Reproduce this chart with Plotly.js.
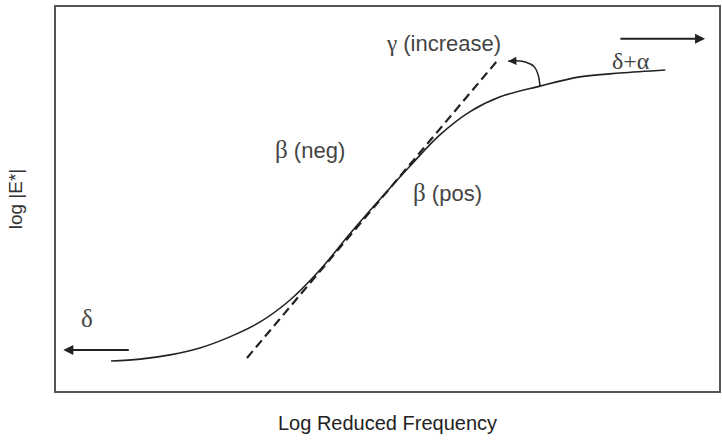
<!DOCTYPE html>
<html>
<head>
<meta charset="utf-8">
<script src="https://cdn.plot.ly/plotly-3.0.1.min.js"></script>
<style>html,body{margin:0;padding:0;background:#fff;}#chart{width:722px;height:442px;}</style>
</head>
<body>
<div id="chart"></div>
<script>
// master curve (log reduced frequency vs log |E*|), in arbitrary axis units
const logFreq    = [0.83, 1.27, 1.72, 2.17, 2.62, 3.08, 3.53, 3.98, 4.43, 4.89, 5.34, 5.79, 6.24, 6.70, 7.30, 7.90, 8.51, 9.19];
const logModulus = [0.78, 0.83, 0.94, 1.12, 1.41, 1.80, 2.37, 3.15, 4.09, 5.00, 5.86, 6.67, 7.27, 7.66, 7.94, 8.18, 8.28, 8.36];
// dashed tangent line through the inflection point
const tangentX = [2.88, 6.65];
const tangentY = [0.86, 8.59];
// arrows: [x tail, y tail, x head, y head]
const leftArrow  = [1.12, 1.07, 0.11, 1.07];
const rightArrow = [8.49, 9.17, 9.79, 9.17];
// curved arrow from the curve towards the tangent end
const curvedArrowX = [7.30, 7.27, 7.21, 7.09, 6.95, 6.82];
const curvedArrowY = [7.94, 8.25, 8.45, 8.56, 8.60, 8.59];
// labels
const labelText = [
  '<span style="font-family:Liberation Serif;font-size:23px">γ</span> (increase)',
  '<span style="font-family:Liberation Serif;font-size:24px">δ+α</span>',
  '<span style="font-family:Liberation Serif;font-size:25px">β</span> (neg)',
  '<span style="font-family:Liberation Serif;font-size:25px">β</span> (pos)',
  '<span style="font-family:Liberation Serif;font-size:25px">δ</span>'
];
const labelX = [5.85, 8.67, 3.83, 5.91, 0.47];
const labelY = [9.06, 8.59, 6.28, 5.16, 1.90];

const traces = [
  {x: logFreq, y: logModulus, mode: 'lines', line: {color: '#222', width: 1.6, shape: 'spline', smoothing: 1}, hoverinfo: 'skip'},
  {x: tangentX, y: tangentY, mode: 'lines', line: {color: '#222', width: 2.2, dash: '9px,5px'}, hoverinfo: 'skip'},
  {x: curvedArrowX, y: curvedArrowY, mode: 'lines', line: {color: '#222', width: 1.5, shape: 'spline'}, hoverinfo: 'skip'}
];

const annotations = [];
for (let i = 0; i < labelText.length; i++) {
  annotations.push({x: labelX[i], y: labelY[i], xref: 'x', yref: 'y', text: labelText[i], showarrow: false,
    font: {family: 'Liberation Sans, Arial, sans-serif', size: 22, color: '#444'}, xanchor: 'center', yanchor: 'middle'});
}
[leftArrow, rightArrow].forEach(a => {
  annotations.push({x: a[2], y: a[3], ax: a[0], ay: a[1], xref: 'x', yref: 'y', axref: 'x', ayref: 'y', text: '',
    showarrow: true, arrowhead: 2, arrowsize: 1, arrowwidth: 2, arrowcolor: '#222'});
});
// arrowhead for the curved arrow
annotations.push({x: curvedArrowX[curvedArrowX.length-1], y: curvedArrowY[curvedArrowY.length-1],
  ax: curvedArrowX[curvedArrowX.length-2], ay: curvedArrowY[curvedArrowY.length-2],
  xref: 'x', yref: 'y', axref: 'x', ayref: 'y', text: '', showarrow: true, arrowhead: 2, arrowsize: 1.1, arrowwidth: 1.5, arrowcolor: '#222'});

const layout = {
  width: 722, height: 442,
  margin: {l: 56, r: 3, t: 7, b: 51},
  paper_bgcolor: '#fff', plot_bgcolor: '#fff',
  showlegend: false,
  font: {family: 'Liberation Sans, Arial, sans-serif', color: '#333'},
  xaxis: {range: [0, 10], showgrid: false, zeroline: false, showticklabels: false, ticks: '',
    showline: true, mirror: true, linecolor: '#555', linewidth: 2, fixedrange: true,
    title: {text: 'Log Reduced Frequency', font: {size: 20, color: '#222'}, standoff: 24}},
  yaxis: {range: [0, 10], showgrid: false, zeroline: false, showticklabels: false, ticks: '',
    showline: true, mirror: true, linecolor: '#555', linewidth: 2, fixedrange: true,
    title: {text: 'log |E*|', font: {size: 19, color: '#333'}, standoff: 26}},
  annotations: annotations
};

Plotly.newPlot('chart', traces, layout, {displayModeBar: false, staticPlot: true});
</script>
</body>
</html>
